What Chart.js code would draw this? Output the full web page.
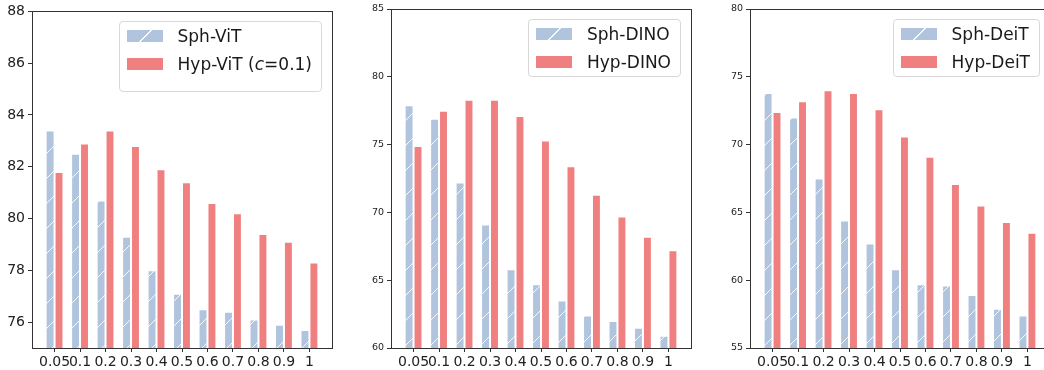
<!DOCTYPE html>
<html>
<head>
<meta charset="utf-8">
<script src="https://cdn.jsdelivr.net/npm/chart.js@4.4.1/dist/chart.umd.min.js"></script>
<style>
  body { margin: 0; width: 1044px; height: 370px; overflow: hidden; background: #fff; position: relative; font-family: 'DejaVu Sans', sans-serif; }
  .box { position: absolute; top: 0; height: 370px; }
  .leg { position: absolute; border: 1px solid #d8d8d8; border-radius: 4px; background: rgba(255,255,255,0.85);
         padding: 0 9px 0 7px; font-size: 17px; color: #1a1a1a; }
  .row { display: flex; align-items: center; height: 28px; white-space: nowrap; }
  .sw { width: 36px; height: 12px; margin-right: 15px; flex: none; }
</style>
</head>
<body>
<div class="box" id="b1" style="left:0;width:342px"><canvas id="c1"></canvas></div>
<div class="box" id="b2" style="left:351px;width:350px"><canvas id="c2"></canvas></div>
<div class="box" id="b3" style="left:710px;width:350px"><canvas id="c3"></canvas></div>
<script>
// ratios on the x axis
const xLabels = ['0.05', '0.1', '0.2', '0.3', '0.4', '0.5', '0.6', '0.7', '0.8', '0.9', '1'];

// ViT
const sphVit = [83.4, 82.5, 80.7, 79.3, 78.0, 77.1, 76.5, 76.4, 76.1, 75.9, 75.7];
const hypVit = [81.8, 82.9, 83.4, 82.8, 81.9, 81.4, 80.6, 80.2, 79.4, 79.1, 78.3];
const yTicksVit = [76, 78, 80, 82, 84, 86, 88];
const namesVit = ['Sph-ViT', 'Hyp-ViT (<i>c</i>=0.1)'];

// DINO
const sphDino = [77.9, 76.9, 72.2, 69.1, 65.8, 64.7, 63.5, 62.4, 62.0, 61.5, 60.9];
const hypDino = [74.9, 77.5, 78.3, 78.3, 77.1, 75.3, 73.4, 71.3, 69.7, 68.2, 67.2];
const yTicksDino = [60, 65, 70, 75, 80, 85];
const namesDino = ['Sph-DINO', 'Hyp-DINO'];

// DeiT
const sphDeit = [73.8, 72.0, 67.5, 64.4, 62.7, 60.8, 59.7, 59.6, 58.9, 57.9, 57.4];
const hypDeit = [72.4, 73.2, 74.0, 73.8, 72.6, 70.6, 69.1, 67.1, 65.5, 64.3, 63.5];
const yTicksDeit = [55, 60, 65, 70, 75, 80];
const namesDeit = ['Sph-DeiT', 'Hyp-DeiT'];

const SPH = '#B0C4DE';
const HYP = '#F08080';

Chart.defaults.font.family = "'DejaVu Sans', sans-serif";
Chart.defaults.color = '#222';

function hatch() {
  const s = 25;
  const c = document.createElement('canvas');
  c.width = s; c.height = s;
  const g = c.getContext('2d');
  g.fillStyle = SPH;
  g.fillRect(0, 0, s, s);
  g.strokeStyle = 'rgba(255,255,255,0.9)';
  g.lineWidth = 1;
  g.beginPath();
  g.moveTo(-1, s + 1); g.lineTo(s + 1, -1);
  g.moveTo(-2, 2); g.lineTo(2, -2);
  g.moveTo(s - 2, s + 2); g.lineTo(s + 2, s - 2);
  g.stroke();
  return g.createPattern(c, 'repeat');
}

const frame = {
  id: 'frame',
  afterDraw(chart) {
    const a = chart.chartArea, ctx = chart.ctx;
    ctx.save();
    ctx.strokeStyle = '#333';
    ctx.lineWidth = 1;
    ctx.strokeRect(Math.round(a.left) + 0.5, Math.round(a.top) + 0.5, Math.round(a.right - a.left), Math.round(a.bottom - a.top));
    ctx.restore();
  }
};

function toPts(vals) {
  return vals.map((v, i) => ({ x: i, y: v }));
}

function makeChart(id, boxId, sph, hyp, names, yMin, yMax, yTicks, ySize, yWidth, extraBottom) {
  const chart = new Chart(document.getElementById(id), {
    type: 'bar',
    data: {
      datasets: [
        { label: names[0], data: toPts(sph), backgroundColor: hatch(), borderColor: 'rgba(255,255,255,0.8)', borderWidth: 1,
          categoryPercentage: 0.7, barPercentage: 1.0 },
        { label: names[1], data: toPts(hyp), backgroundColor: HYP, borderColor: 'rgba(255,255,255,0.8)', borderWidth: 1,
          categoryPercentage: 0.7, barPercentage: 1.0 }
      ]
    },
    options: {
      responsive: true,
      maintainAspectRatio: false,
      animation: false,
      layout: { padding: { top: 9, right: 10, left: 0, bottom: 0 } },
      plugins: { legend: { display: false }, tooltip: { enabled: false } },
      scales: {
        x: {
          type: 'linear',
          min: -0.885, max: 10.885,
          bounds: 'data',
          offset: false,
          afterBuildTicks: s => { s.ticks = xLabels.map((_, i) => ({ value: i })); },
          afterFit: s => { s.height = 22; },
          grid: { offset: false, drawOnChartArea: false, drawTicks: true, tickLength: 4, color: '#333' },
          border: { display: true, color: '#333' },
          ticks: { autoSkip: false, maxRotation: 0, padding: 2, font: { size: 14 }, color: '#222',
                   callback: v => xLabels[Math.round(v)] }
        },
        y: {
          min: yMin, max: yMax,
          afterBuildTicks: s => { s.ticks = yTicks.map(v => ({ value: v })); },
          afterFit: s => { s.width = yWidth; },
          grid: { drawOnChartArea: false, drawTicks: true, tickLength: 4, color: '#333' },
          border: { display: true, color: '#333' },
          ticks: { padding: 3, font: { size: ySize }, color: '#222' }
        }
      }
    },
    plugins: [frame]
  });

  // legend drawn as html so the math italic can stay
  const box = document.getElementById(boxId);
  const leg = document.createElement('div');
  leg.className = 'leg';
  leg.innerHTML =
    '<div class="row"><span class="sw" style="background:' + SPH +
    ' repeating-linear-gradient(135deg, rgba(0,0,0,0) 0 16.5px, rgba(255,255,255,0.9) 16.5px 17.7px)"></span>' + names[0] + '</div>' +
    '<div class="row"><span class="sw" style="background:' + HYP + '"></span>' + names[1] + '</div>';
  if (extraBottom) leg.style.paddingBottom = extraBottom + 'px';
  document.body.appendChild(leg);
  const a = chart.chartArea;
  leg.style.top = (a.top + 10) + 'px';
  leg.style.right = (1044 - (box.offsetLeft + a.right - 10)) + 'px';
  return chart;
}

makeChart('c1', 'b1', sphVit, hypVit, namesVit, 75, 88, yTicksVit, 14, 32, 13);
makeChart('c2', 'b2', sphDino, hypDino, namesDino, 60, 85, yTicksDino, 9.5, 40, 0);
makeChart('c3', 'b3', sphDeit, hypDeit, namesDeit, 55, 80, yTicksDeit, 9.5, 40, 0);
</script>
</body>
</html>
